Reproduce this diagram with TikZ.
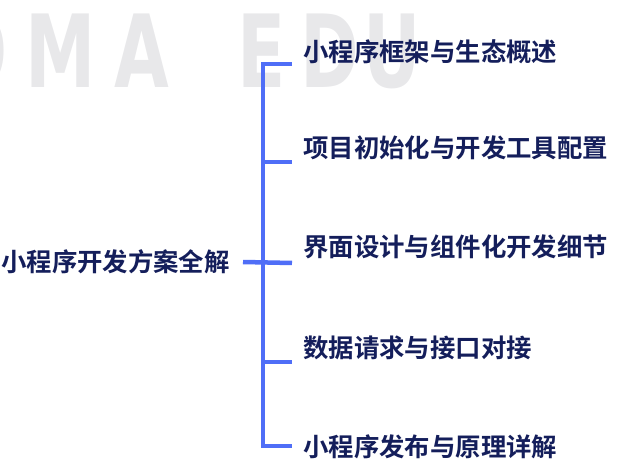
\documentclass[tikz,border=0pt]{standalone}
\usepackage{fontspec}
\usepackage{tikz}
\usetikzlibrary{positioning}
\newfontfamily\cjk{Noto Sans CJK SC Bold}
\newfontfamily\wmfont{DejaVu Sans Bold}
\definecolor{ink}{HTML}{141E5B}
\definecolor{twig}{HTML}{4F6EF7}
\definecolor{mark}{HTML}{E8E8EA}

\begin{document}
\begin{tikzpicture}[x=1pt,y=-1pt,
  branch/.style={draw=twig,line width=4.5pt},
  leaf/.style={anchor=west,inner sep=0pt,text=ink,font=\cjk\fontsize{25.4}{29}\selectfont},
  wm/.style={text=mark,font=\wmfont\fontsize{101}{101}\selectfont,xscale=0.7,inner sep=0pt}]
\useasboundingbox (0,0) rectangle (627,476);
% faint watermark behind the tree
\foreach \ch/\cx in {O/-22,M/61,A/142,E/262,D/330,U/392}
  \node[wm] at (\cx,51) {\ch};

\node[leaf,anchor=east] (root) at (230,262) {小程序开发方案全解};
\node[leaf] (c1) at (303,52) {小程序框架与生态概述};
\node[leaf] (c2) at (303,148) {项目初始化与开发工具配置};
\node[leaf] (c3) at (303,247) {界面设计与组件化开发细节};
\node[leaf] (c4) at (303,348) {数据请求与接口对接};
\node[leaf] (c5) at (303,447) {小程序发布与原理详解};

\coordinate (hub) at (263,263);
\coordinate (k1) at (292,64);
\coordinate (k2) at (292,162);
\coordinate (k3) at (292,263);
\coordinate (k4) at (292,362);
\coordinate (k5) at (292,446);

\draw[branch] (k1) -- (k1 -| hub) -- (k5 -| hub) -- (k5);
\draw[branch] ([xshift=13pt]root.east) -- (k3);
\draw[branch] (k2 -| hub) -- (k2);
\draw[branch] (k4 -| hub) -- (k4);
\end{tikzpicture}
\end{document}
